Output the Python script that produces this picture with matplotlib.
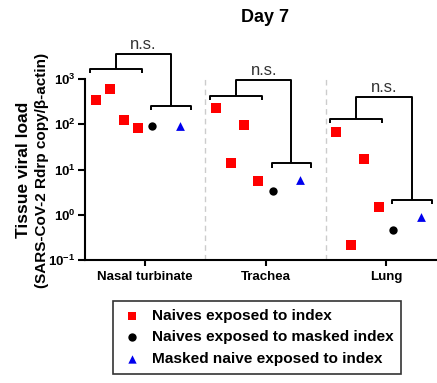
import matplotlib
matplotlib.use('Agg')
import matplotlib.pyplot as plt
import numpy as np

plt.rcParams['font.family'] = ['Liberation Sans', 'DejaVu Sans']
plt.rcParams['mathtext.fontset'] = 'custom'
plt.rcParams['mathtext.rm'] = 'Liberation Sans:bold'
plt.rcParams['mathtext.it'] = 'Liberation Sans:bold'
plt.rcParams['mathtext.bf'] = 'Liberation Sans:bold'

# values
tissues = ['Nasal turbinate', 'Trachea', 'Lung']
naives_index = [[340, 600, 124, 81], [228, 13.6, 94, 5.5], [66, 0.21, 17.4, 1.5]]
naives_masked_index = [90, 3.3, 0.45]
masked_naive_index = [90, 5.9, 0.87]

# significance bracket heights (left group, right group, joining line)
left_bracket = [1670, 420, 129]
right_bracket = [251, 13.6, 2.15]
top_bracket = [3590, 950, 400]

yticks = [0.1, 1, 10, 100, 1000]
ytick_labels = ['$10^{-1}$', '$10^{0}$', '$10^{1}$', '$10^{2}$', '$10^{3}$']

sq_offsets = [-0.41, -0.29, -0.18, -0.06]

fig = plt.figure(figsize=(4.37, 3.83), dpi=100)
ax = fig.add_axes([85 / 437, 1 - 260 / 383, 361 / 437, 181 / 383])
ax.set_yscale('log')
ax.set_ylim(0.1, 1000)
ax.set_xlim(-0.5, 2.5)

for i in range(len(tissues)):
    ax.scatter([i + o for o in sq_offsets], naives_index[i], marker='s', s=62,
               color='#ff0000', linewidths=0, zorder=3, clip_on=False)
ax.scatter(np.arange(3) + 0.06, naives_masked_index, marker='o', s=36,
           color='black', linewidths=0, zorder=3, clip_on=False)
ax.scatter(np.arange(3) + 0.29, masked_naive_index, marker='^', s=40,
           color='#0000ee', linewidths=0, zorder=3, clip_on=False)

# legend handles
h1 = ax.scatter([], [], marker='s', s=40, color='#ff0000', linewidths=0)
h2 = ax.scatter([], [], marker='o', s=36, color='black', linewidths=0)
h3 = ax.scatter([], [], marker='^', s=36, color='#0000ee', linewidths=0)

# separators
for xs in [0.5, 1.5]:
    ax.plot([xs, xs], [0.1, 1000], ls=(0, (4, 3)), color='#cccccc', lw=1)

dt = 10 ** (-0.09)
kw = dict(color='black', lw=1.4, clip_on=False, solid_capstyle='butt')
for i in range(len(tissues)):
    l0, l1 = i - 0.46, i - 0.03
    r0, r1 = i + 0.05, i + 0.38
    yl, yr, yt = left_bracket[i], right_bracket[i], top_bracket[i]
    ax.plot([l0, l0, l1, l1], [yl * dt, yl, yl, yl * dt], **kw)
    ax.plot([r0, r0, r1, r1], [yr * dt, yr, yr, yr * dt], **kw)
    lm, rm = (l0 + l1) / 2, (r0 + r1) / 2
    ax.plot([lm, lm, rm, rm], [yl, yt, yt, yr], **kw)
    ax.text((lm + rm) / 2, yt * 10 ** 0.2, 'n.s.', ha='center', va='center',
            fontsize=12, color='#333333')

ax.spines['top'].set_visible(False)
ax.spines['right'].set_visible(False)
ax.spines['left'].set_linewidth(1.5)
ax.spines['bottom'].set_linewidth(1.5)
ax.set_yticks(yticks)
ax.set_yticklabels(ytick_labels, fontsize=9.5)
ax.minorticks_off()
ax.set_xticks(range(3))
ax.set_xticklabels(tissues, fontsize=9.5, fontweight='bold')
ax.tick_params(axis='y', length=5, width=1.5, pad=2)
ax.tick_params(axis='x', length=4, width=1.5, pad=4)

fig.text(265 / 437, 1 - 17 / 383, 'Day 7', ha='center', va='center',
         fontsize=13, fontweight='bold')
fig.text(24 / 437, 1 - 170 / 383, 'Tissue viral load', rotation=90,
         ha='center', va='center', fontsize=12.5, fontweight='bold')
fig.text(42 / 437, 1 - 170 / 383, '(SARS-CoV-2 Rdrp copy/\u03b2-actin)',
         rotation=90, ha='center', va='center', fontsize=11, fontweight='bold')

leg = fig.legend([h1, h2, h3],
                 ['Naives exposed to index', 'Naives exposed to masked index',
                  'Masked naive exposed to index'],
                 loc='upper left', bbox_to_anchor=(113 / 437, 1 - 301 / 383),
                 borderaxespad=0, fancybox=False, edgecolor='black',
                 prop={'weight': 'bold', 'size': 11.1}, handletextpad=0.6,
                 labelspacing=0.5, borderpad=0.5, handlelength=1.4)
leg.get_frame().set_linewidth(1.2)

fig.savefig('out.png', dpi=100)
